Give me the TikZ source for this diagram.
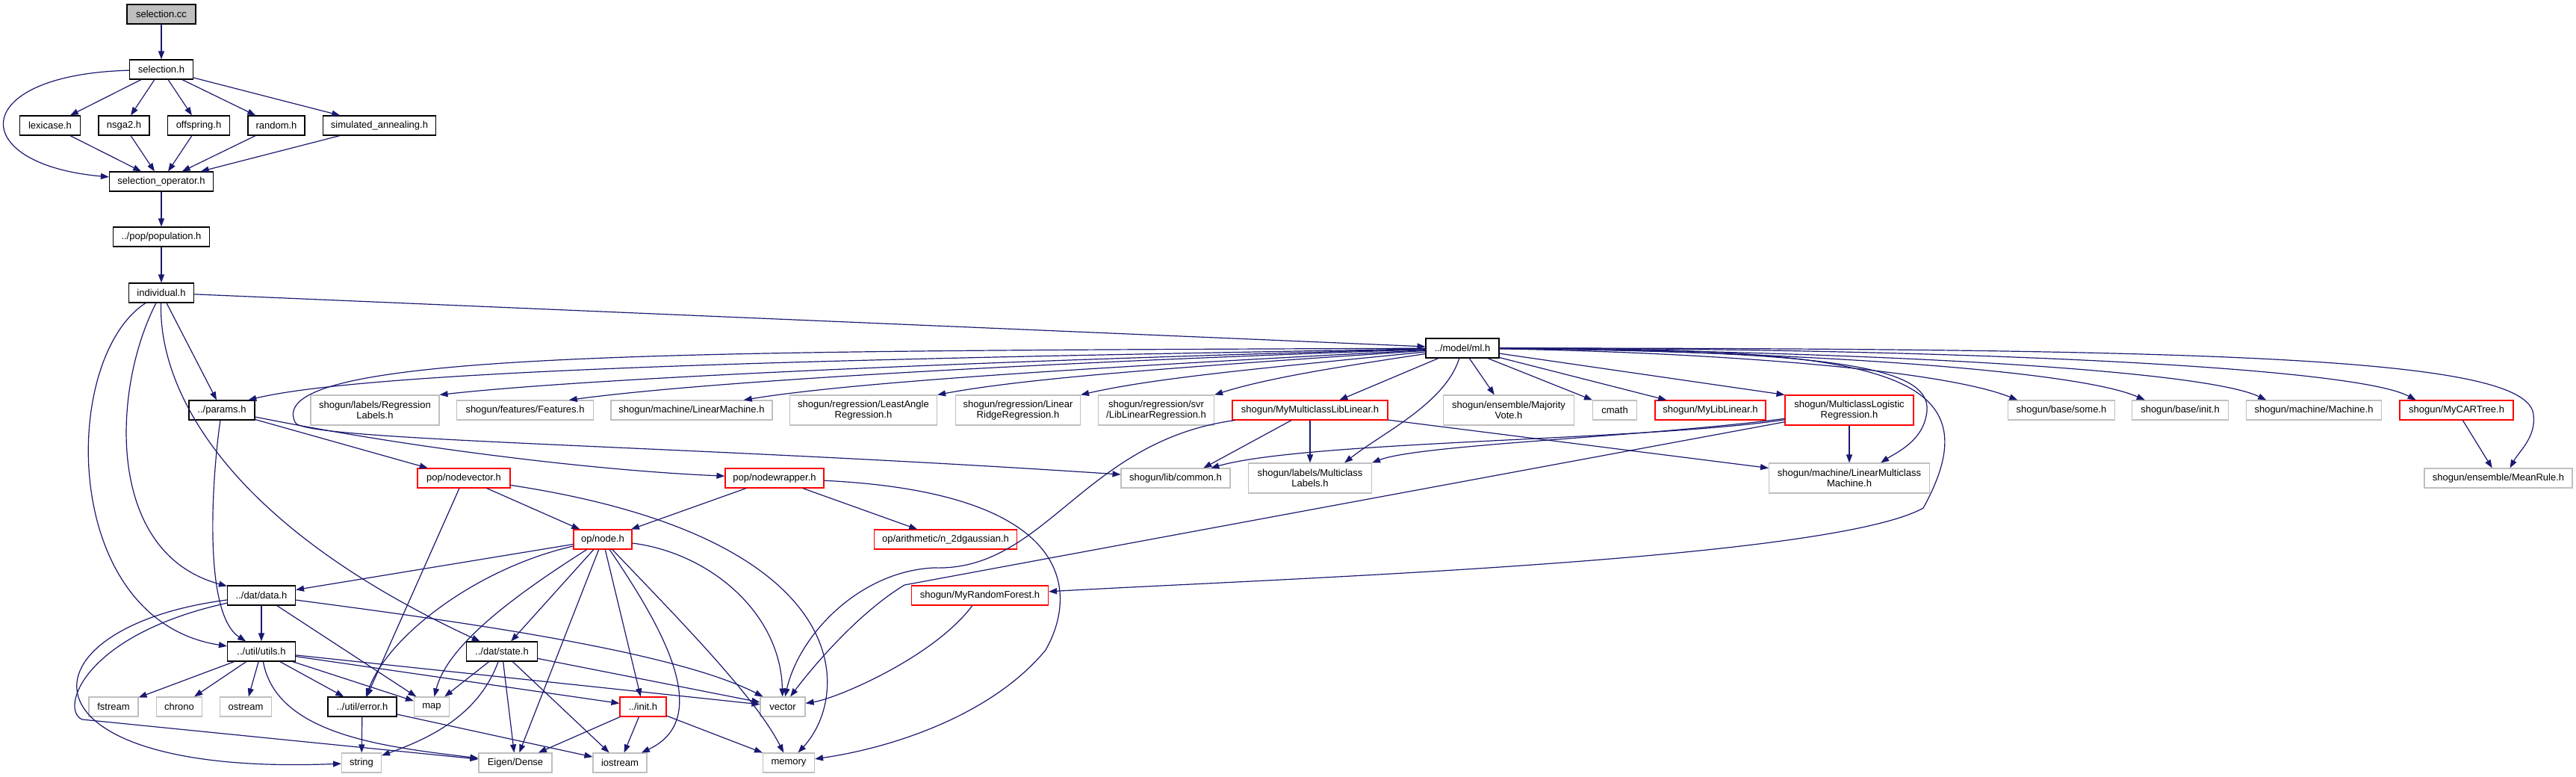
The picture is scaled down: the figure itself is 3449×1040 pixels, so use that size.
\documentclass[tikz,border=0pt]{standalone}
\usepackage{fontspec}
\setmainfont{Liberation Sans}
\usepackage{xcolor}
\definecolor{dxblue}{RGB}{25,25,112}
\definecolor{dxgray}{RGB}{191,191,191}
\definecolor{dxred}{RGB}{255,0,0}
\usepackage{tikz}
\usetikzlibrary{arrows.meta}

\tikzset{
  hdr/.style={draw=black, line width=1.1pt, fill=white, inner sep=0pt,
    minimum height=26pt, align=center, font=\fontsize{13}{14.5}\selectfont},
  ext/.style={hdr, draw=dxgray},
  trunc/.style={hdr, draw=dxred},
  root/.style={hdr, fill=dxgray},
  twoline/.style={minimum height=40pt},
  inc/.style={dxblue, line width=1.2pt, -{Triangle[length=11pt,width=8pt]}},
}

\begin{document}
\begin{tikzpicture}[x=1pt, y=-1pt]
  \useasboundingbox (0,0) rectangle (3449,1040);

  % Selection headers
  \node[root, minimum width=92pt]  (selcc)      at (216,19)  {selection.cc};
  \node[hdr, minimum width=85pt]   (selh)       at (216,93)  {selection.h};
  \node[hdr, minimum width=81pt]   (lexicase)   at (67,168)  {lexicase.h};
  \node[hdr, minimum width=68pt]   (nsga)       at (166,168) {nsga2.h};
  \node[hdr, minimum width=83pt]   (offspring)  at (266,168) {offspring.h};
  \node[hdr, minimum width=76pt]   (random)     at (370,168) {random.h};
  \node[hdr, minimum width=151pt]  (simanneal)  at (508,168) {simulated\_annealing.h};
  \node[hdr, minimum width=139pt]  (selop)      at (216,243) {selection\_operator.h};
  \node[hdr, minimum width=129pt]  (population) at (216,317) {../pop/population.h};
  \node[hdr, minimum width=87pt]   (individual) at (216,392) {individual.h};
  \node[hdr, minimum width=98pt]   (ml)         at (1958,466) {../model/ml.h};

  % Row under ml.h
  \node[hdr, minimum width=88pt]            (params)     at (297,549)  {../params.h};
  \node[ext, twoline, minimum width=172pt]  (reglabels)  at (502,549)  {shogun/labels/Regression\\Labels.h};
  \node[ext, minimum width=183pt]           (features)   at (703,549)  {shogun/features/Features.h};
  \node[ext, minimum width=216pt]           (linmach)    at (926,549)  {shogun/machine/LinearMachine.h};
  \node[ext, twoline, minimum width=197pt]  (leastangle) at (1156,549) {shogun/regression/LeastAngle\\Regression.h};
  \node[ext, twoline, minimum width=167pt]  (linridge)   at (1363,549) {shogun/regression/Linear\\RidgeRegression.h};
  \node[ext, twoline, minimum width=155pt]  (svr)        at (1548,549) {shogun/regression/svr\\/LibLinearRegression.h};
  \node[trunc, minimum width=208pt]         (mymclib)    at (1754,549) {shogun/MyMulticlassLibLinear.h};
  \node[ext, twoline, minimum width=175pt]  (majvote)    at (2020,549) {shogun/ensemble/Majority\\Vote.h};
  \node[ext, minimum width=59pt]            (cmath)      at (2162,549) {cmath};
  \node[trunc, minimum width=148pt]         (mylib)      at (2290,549) {shogun/MyLibLinear.h};
  \node[trunc, twoline, minimum width=172pt](mclogreg)   at (2476,549) {shogun/MulticlassLogistic\\Regression.h};
  \node[ext, minimum width=143pt]           (basesome)   at (2760,549) {shogun/base/some.h};
  \node[ext, minimum width=129pt]           (baseinit)   at (2919,549) {shogun/base/init.h};
  \node[ext, minimum width=181pt]           (machine)    at (3098,549) {shogun/machine/Machine.h};
  \node[trunc, minimum width=152pt]         (mycart)     at (3289,549) {shogun/MyCARTree.h};

  % Middle rows
  \node[trunc, minimum width=124pt]         (nodevector)  at (621,640)  {pop/nodevector.h};
  \node[trunc, minimum width=132pt]         (nodewrapper) at (1037,640) {pop/nodewrapper.h};
  \node[ext, minimum width=146pt]           (common)      at (1574,640) {shogun/lib/common.h};
  \node[ext, twoline, minimum width=165pt]  (mclabels)    at (1754,640) {shogun/labels/Multiclass\\Labels.h};
  \node[ext, twoline, minimum width=215pt]  (linmcmach)   at (2476,640) {shogun/machine/LinearMulticlass\\Machine.h};
  \node[ext, minimum width=198pt]           (meanrule)    at (3345,640) {shogun/ensemble/MeanRule.h};
  \node[trunc, minimum width=78pt]          (opnode)      at (807,722)  {op/node.h};
  \node[trunc, minimum width=191pt]         (n2dgauss)    at (1266,722) {op/arithmetic/n\_2dgaussian.h};
  \node[hdr, minimum width=91pt]            (data)        at (350,797)  {../dat/data.h};
  \node[trunc, minimum width=183pt]         (myrf)        at (1312,797) {shogun/MyRandomForest.h};
  \node[hdr, minimum width=91pt]            (utils)       at (350,872)  {../util/utils.h};
  \node[hdr, minimum width=95pt]            (state)       at (672,872)  {../dat/state.h};

  % Leaf rows
  \node[ext, minimum width=66pt]   (fstream)  at (152,946)  {fstream};
  \node[ext, minimum width=61pt]   (chrono)   at (240,946)  {chrono};
  \node[ext, minimum width=69pt]   (ostream)  at (329,946)  {ostream};
  \node[hdr, minimum width=92pt]   (error)    at (485,946)  {../util/error.h};
  \node[ext, minimum width=47pt]   (map)      at (578,946)  {map};
  \node[trunc, minimum width=62pt] (init)     at (861,946)  {../init.h};
  \node[ext, minimum width=60pt]   (vector)   at (1048,946) {vector};
  \node[ext, minimum width=53pt]   (string)   at (484,1021) {string};
  \node[ext, minimum width=98pt]   (eigen)    at (690,1021) {Eigen/Dense};
  \node[ext, minimum width=72pt]   (iostream) at (830,1021) {iostream};
  \node[ext, minimum width=69pt]   (memory)   at (1056,1021) {memory};

  % selection.cc down to individual.h
  \draw[inc] (selcc) -- (selh);
  \draw[inc] (selh) -- (lexicase);
  \draw[inc] (selh) -- (nsga);
  \draw[inc] (selh) -- (offspring);
  \draw[inc] (selh) -- (random);
  \draw[inc] (selh) -- (simanneal);
  \draw[inc] (selh) .. controls (-45,100) and (-45,220) .. (selop);
  \draw[inc] (lexicase) -- (selop);
  \draw[inc] (nsga) -- (selop);
  \draw[inc] (offspring) -- (selop);
  \draw[inc] (random) -- (selop);
  \draw[inc] (simanneal) -- (selop);
  \draw[inc] (selop) -- (population);
  \draw[inc] (population) -- (individual);

  % individual.h
  \draw[inc] (individual) -- (ml);
  \draw[inc] (individual) -- (params);
  \draw[inc] (individual) .. controls (80,480) and (80,830) .. (utils);
  \draw[inc] (individual) .. controls (150,520) and (140,740) .. (data);
  \draw[inc] (individual) .. controls (212,520) and (300,700) .. (state);

  % ml.h, to the left
  \draw[inc] (ml) .. controls (1300,478) and (520,490) .. (params.21);
  \draw[inc] (ml) .. controls (900,470) and (350,470) .. (395,565)
                  .. controls (398,590) and (900,595) .. (common);
  \draw[inc] (ml) .. controls (1350,482) and (800,505) .. (reglabels.north east);
  \draw[inc] (ml) .. controls (1400,485) and (950,510) .. (features.13);
  \draw[inc] (ml) .. controls (1500,490) and (1150,510) .. (linmach.11);
  \draw[inc] (ml) .. controls (1600,490) and (1380,505) .. (leastangle.north east);
  \draw[inc] (ml) .. controls (1700,492) and (1550,505) .. (linridge.north east);
  \draw[inc] (ml) .. controls (1800,490) and (1700,505) .. (svr.north east);
  \draw[inc] (ml) -- (mymclib.19);
  \draw[inc] (ml) .. controls (1935,540) and (1850,580) .. (mclabels.24);

  % ml.h, to the right
  \draw[inc] (ml) -- (majvote.133);
  \draw[inc] (ml) -- (cmath.north west);
  \draw[inc] (ml) -- (mylib.167);
  \draw[inc] (ml) -- (mclogreg.north west);
  \draw[inc] (ml) .. controls (2300,472) and (2600,495) .. (basesome.167);
  \draw[inc] (ml) .. controls (2400,470) and (2780,495) .. (baseinit.164);
  \draw[inc] (ml) .. controls (2500,470) and (2950,495) .. (machine.168);
  \draw[inc] (ml) .. controls (2600,466) and (3150,490) .. (mycart.166);
  \draw[inc] (ml) .. controls (3000,466) and (3385,480) .. (3392,555)
                  .. controls (3396,585) and (3372,605) .. (meanrule.41);
  \draw[inc] (ml) .. controls (2450,470) and (2585,490) .. (2580,550)
                  .. controls (2576,590) and (2540,605) .. (linmcmach.26);
  \draw[inc] (ml) .. controls (2500,466) and (2680,490) .. (2575,680)
                  .. controls (2450,750) and (1700,775) .. (myrf);

  % shogun headers
  \draw[inc] (mymclib) -- (common.20);
  \draw[inc] (mymclib) -- (mclabels);
  \draw[inc] (mymclib) -- (linmcmach);
  \draw[inc] (mymclib) .. controls (1450,590) and (1400,765) .. (1250,760)
                       .. controls (1150,765) and (1070,850) .. (vector);
  \draw[inc] (mclogreg) .. controls (2200,590) and (1750,590) .. (common.16);
  \draw[inc] (mclogreg) .. controls (2200,585) and (1900,595) .. (mclabels.north east);
  \draw[inc] (mclogreg) -- (linmcmach);
  \draw[inc] (mclogreg) -- (1211,783) .. controls (1150,820) and (1090,890) .. (vector);
  \draw[inc] (mycart) -- (meanrule);
  \draw[inc] (myrf) .. controls (1250,880) and (1120,935) .. (vector);

  % params.h and pop headers
  \draw[inc] (params) .. controls (285,630) and (270,820) .. (utils);
  \draw[inc] (params) -- (nodevector);
  \draw[inc] (params) .. controls (550,600) and (800,630) .. (nodewrapper);
  \draw[inc] (nodevector) -- (opnode);
  \draw[inc] (nodevector) -- (error);
  \draw[inc] (nodevector) .. controls (1150,720) and (1140,930) .. (memory);
  \draw[inc] (nodewrapper) -- (opnode);
  \draw[inc] (nodewrapper) -- (n2dgauss);
  \draw[inc] (nodewrapper) .. controls (1450,660) and (1440,800) .. (1400,870)
                           .. controls (1330,955) and (1200,1000) .. (memory);

  % op/node.h
  \draw[inc] (opnode) -- (data);
  \draw[inc] (opnode) .. controls (640,760) and (520,850) .. (error);
  \draw[inc] (opnode) .. controls (700,790) and (600,860) .. (map);
  \draw[inc] (opnode) -- (state);
  \draw[inc] (opnode) -- (eigen);
  \draw[inc] (opnode) -- (init);
  \draw[inc] (opnode) .. controls (880,830) and (960,960) .. (iostream);
  \draw[inc] (opnode) .. controls (900,820) and (1010,930) .. (memory);
  \draw[inc] (opnode) .. controls (950,740) and (1045,820) .. (vector);

  % ../dat/data.h
  \draw[inc] (data) -- (utils);
  \draw[inc] (data) -- (map);
  \draw[inc] (data) .. controls (600,830) and (900,870) .. (vector);
  \draw[inc] (data) .. controls (20,840) and (10,1040) .. (string);
  \draw[inc] (data) .. controls (110,850) and (80,950) .. (110,963) -- (eigen);

  % ../util/utils.h
  \draw[inc] (utils) -- (fstream);
  \draw[inc] (utils) -- (chrono);
  \draw[inc] (utils) -- (ostream);
  \draw[inc] (utils) -- (error);
  \draw[inc] (utils) -- (map);
  \draw[inc] (utils) -- (vector);
  \draw[inc] (utils) -- (init);
  \draw[inc] (utils) .. controls (370,985) and (520,1000) .. (eigen);

  % ../dat/state.h
  \draw[inc] (state) -- (map);
  \draw[inc] (state) .. controls (640,960) and (570,990) .. (string);
  \draw[inc] (state) -- (eigen);
  \draw[inc] (state) -- (iostream);
  \draw[inc] (state) -- (vector);

  % error.h and init.h
  \draw[inc] (error) -- (string);
  \draw[inc] (error) -- (iostream);
  \draw[inc] (init) -- (eigen);
  \draw[inc] (init) -- (iostream);
  \draw[inc] (init) -- (memory);
\end{tikzpicture}
\end{document}
